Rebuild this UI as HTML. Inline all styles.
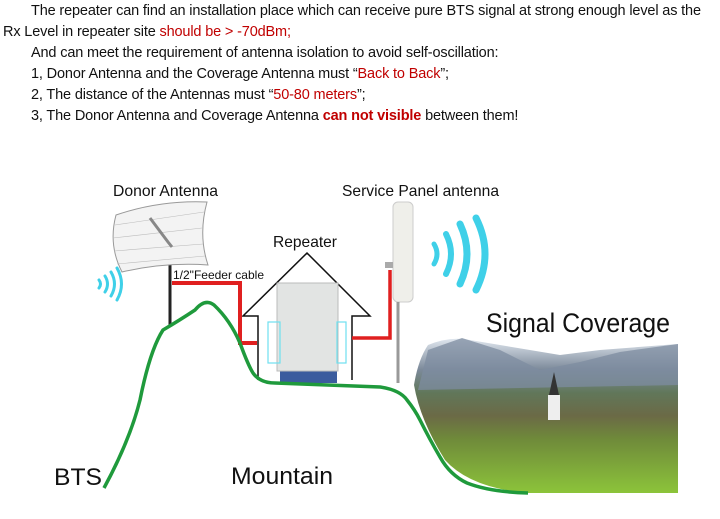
<!DOCTYPE html>
<html><head><meta charset="utf-8"><style>
body{margin:0;width:720px;height:519px;background:#fff;overflow:hidden;position:relative;font-family:"Liberation Sans",sans-serif}
.t{position:absolute;left:0;font-size:14.5px;color:#111;white-space:nowrap;letter-spacing:-0.15px}
.r{color:#c00000}
</style></head><body>
<div class="t" style="top:3px;left:31px">The repeater can find an installation place which can receive pure BTS signal at strong enough level as the</div>
<div class="t" style="top:24px;left:3px">Rx Level in repeater site <span class="r">should be &gt; -70dBm;</span></div>
<div class="t" style="top:45px;left:31px">And can meet the requirement of antenna isolation to avoid self-oscillation:</div>
<div class="t" style="top:66px;left:31px">1, Donor Antenna and the Coverage Antenna must “<span class="r">Back to Back</span>”;</div>
<div class="t" style="top:87px;left:31px">2, The distance of the Antennas must “<span class="r">50-80 meters</span>”;</div>
<div class="t" style="top:108px;left:31px">3, The Donor Antenna and Coverage Antenna <b class="r">can not visible</b> between them!</div>
<svg width="720" height="519" style="position:absolute;left:0;top:0" font-family="Liberation Sans, sans-serif">
<defs>
<linearGradient id="sky" x1="0" y1="0" x2="0" y2="1">
<stop offset="0" stop-color="#dfe6ee"/><stop offset="0.2" stop-color="#7c8a9a"/><stop offset="0.35" stop-color="#61775a"/><stop offset="0.5" stop-color="#6b6a46"/><stop offset="0.65" stop-color="#6f8a3a"/><stop offset="1" stop-color="#8cc43a"/></linearGradient>
</defs>
<!-- photo -->
<path d="M428 345 Q450 336 470 340 L500 345 L560 355 L600 350 L678 344 L678 493 L528 493 Q470 488 445 460 Q420 420 414 385 Q418 360 428 345 Z" fill="url(#sky)"/>
<path d="M428 350 L462 338 L500 350 L540 370 L580 362 L620 352 L678 344 L678 385 L418 390 Z" fill="#7d8ca0" opacity="0.75"/>
<rect x="548" y="395" width="12" height="25" fill="#eee"/><path d="M549 395 L554 372 L559 395Z" fill="#333"/>
<!-- house -->
<path d="M258 380 L258 316 L243 316 L307 253 L370 316 L352 316 L352 380" fill="none" stroke="#111" stroke-width="1.5"/>
<rect x="280" y="367" width="57" height="16" fill="#3b5c9e"/>
<rect x="277" y="283" width="61" height="88" fill="#e2e4e3" stroke="#bbb"/>
<rect x="268" y="322" width="12" height="41" fill="none" stroke="#6fe0ef" stroke-width="1.2"/>
<rect x="337" y="322" width="9" height="41" fill="none" stroke="#6fe0ef" stroke-width="1.2"/>
<!-- feeder -->
<path d="M172 283 L240 283 L240 343 L257 343" fill="none" stroke="#e02020" stroke-width="4"/>
<path d="M352 338 L390 338 L390 270" fill="none" stroke="#e02020" stroke-width="3.5"/>
<line x1="170" y1="247" x2="170" y2="325" stroke="#222" stroke-width="3"/>
<!-- donor grid -->
<path d="M116 215 Q160 200 207 202 Q198 235 208 265 Q165 262 122 272 Q108 245 116 215Z" fill="#f3f3f3" stroke="#999"/>
<g stroke="#bbb" stroke-width="0.6"><line x1="115" y1="225" x2="204" y2="212"/><line x1="113" y1="238" x2="202" y2="228"/><line x1="114" y1="251" x2="203" y2="244"/><line x1="117" y1="264" x2="205" y2="256"/></g>
<path d="M150 218 L168 242 L172 247" stroke="#888" stroke-width="3" fill="none"/>
<!-- service antenna -->
<rect x="393" y="202" width="20" height="100" rx="5" fill="#efefea" stroke="#ccc"/>
<line x1="398" y1="302" x2="398" y2="383" stroke="#999" stroke-width="3"/>
<rect x="385" y="262" width="8" height="6" fill="#aaa"/>
<!-- signal waves -->
<g fill="none" stroke="#3fd0e8" stroke-linecap="round">
<path d="M434 244 Q440 254 434 264" stroke-width="5"/><path d="M446 234 Q456 254 446 274" stroke-width="6"/><path d="M460 224 Q474 254 460 284" stroke-width="7"/><path d="M476 218 Q494 254 476 290" stroke-width="7"/>
<path d="M99 280 Q102 284 99 288" stroke-width="3"/><path d="M105 276 Q110 284 105 292" stroke-width="3"/><path d="M111 272 Q118 284 111 296" stroke-width="3"/><path d="M117 268 Q126 284 117 300" stroke-width="3"/>
</g>
<!-- green mountain -->
<path d="M104 488 Q130 440 140 400 Q150 350 163 330 Q180 320 195 310 Q205 298 214 305 Q230 320 240 343 Q248 365 253 373 Q260 383 275 383 L380 387 Q400 390 407 400 Q415 410 420 420 Q430 440 440 457 Q450 475 467 483 Q490 492 528 493" fill="none" stroke="#1f9a3c" stroke-width="3.5"/>
<g fill="#111" font-size="16">
<text x="113" y="196" textLength="105" lengthAdjust="spacingAndGlyphs">Donor Antenna</text>
<text x="342" y="196" textLength="157" lengthAdjust="spacingAndGlyphs">Service Panel antenna</text>
<text x="273" y="247" textLength="64" lengthAdjust="spacingAndGlyphs">Repeater</text>
<text x="173" y="279" font-size="12" textLength="91" lengthAdjust="spacingAndGlyphs">1/2"Feeder cable</text>
<text x="486" y="332" font-size="27" textLength="184" lengthAdjust="spacingAndGlyphs">Signal Coverage</text>
<text x="54" y="485" font-size="24" textLength="48" lengthAdjust="spacingAndGlyphs">BTS</text>
<text x="231" y="484" font-size="24" textLength="102" lengthAdjust="spacingAndGlyphs">Mountain</text>
</g>
</svg>
</body></html>
